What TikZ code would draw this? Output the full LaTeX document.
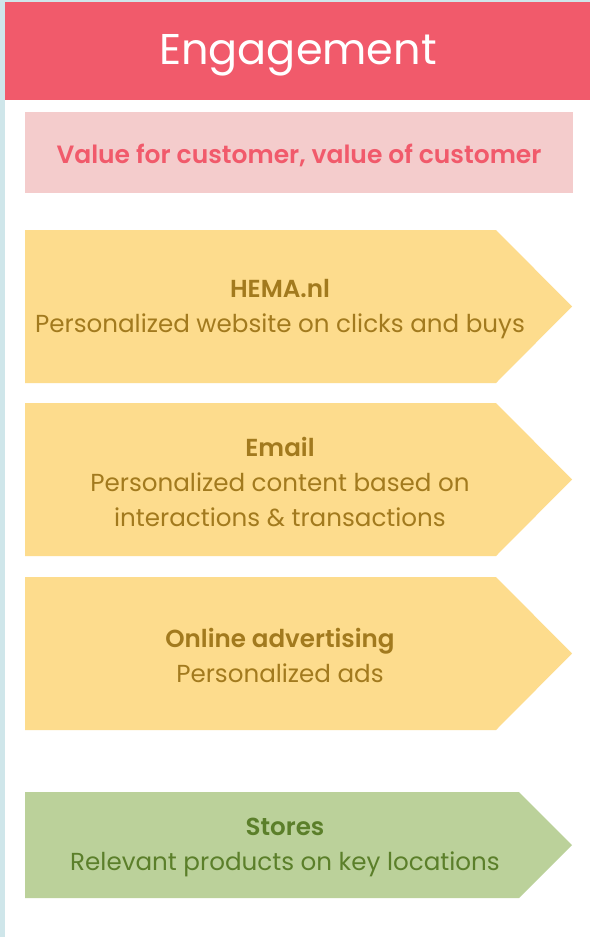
\documentclass[tikz,border=0pt]{standalone}
\usepackage{fontspec}
\setmainfont{Poppins}[BoldFont={Poppins SemiBold}]
\definecolor{skyback}{HTML}{CFE6EA}
\definecolor{headred}{HTML}{F15A6B}
\definecolor{valpink}{HTML}{F4CCCC}
\definecolor{chanyel}{HTML}{FDDC8D}
\definecolor{chantext}{HTML}{A27A1E}
\definecolor{storegrn}{HTML}{BBD19A}
\definecolor{storetext}{HTML}{5B7F2A}
\tikzset{
  chantxt/.style={align=center,text=chantext,font=\fontsize{24.6}{35}\selectfont},
  storetxt/.style={align=center,text=storetext,font=\fontsize{24.6}{35}\selectfont}
}
\begin{document}
\begin{tikzpicture}[x=1pt,y=-1pt]
        \useasboundingbox (0,0) rectangle (590,937);
        \fill[skyback] (0,0) rectangle (590,937);
        \fill[white] (5,100) rectangle (590,937);
        % header
        \fill[headred] (5,2) rectangle (590,100);
        \node[text=white,font=\fontsize{43}{50}\selectfont] (title) at (298,55) {Engagement};
        \fill[valpink] (25,112) rectangle (573,193);
        \node[text=headred,font=\fontsize{25}{28}\selectfont\bfseries] (value) at (299,155) {Value for customer, value of customer};
        % channels
        \fill[chanyel] (25,230) -- (496,230) -- (572,306.5) -- (496,383) -- (25,383) -- cycle;
        \node[chantxt] (hema) at (280,309) {\textbf{HEMA.nl}\\Personalized website on clicks and buys};
        \fill[chanyel] (25,403) -- (496,403) -- (572,479.5) -- (496,556) -- (25,556) -- cycle;
        \node[chantxt] (email) at (280,482) {\textbf{Email}\\Personalized content based on\\interactions \& transactions};
        \fill[chanyel] (25,577) -- (496,577) -- (572,653.5) -- (496,730) -- (25,730) -- cycle;
        \node[chantxt] (online) at (280,655) {\textbf{Online advertising}\\Personalized ads};
        \fill[storegrn] (25,792) -- (519,792) -- (572,845) -- (519,898) -- (25,898) -- cycle;
        \node[storetxt] (stores) at (285,847) {\textbf{Stores}\\Relevant products on key locations};
\end{tikzpicture}
\end{document}
